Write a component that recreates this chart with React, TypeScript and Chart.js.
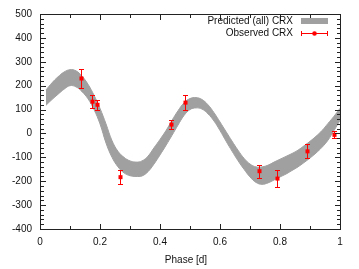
import React, { useEffect, useRef } from "react";
import { Chart, registerables } from "chart.js";
Chart.register(...registerables);

// Predicted band (phase grid, upper and lower edge of CRX envelope)
const bandPhase = [
  0.02, 0.04, 0.06, 0.08, 0.1, 0.12, 0.14, 0.16, 0.18, 0.2,
  0.22, 0.24, 0.26, 0.28, 0.3, 0.32, 0.34, 0.36, 0.38, 0.4,
  0.42, 0.44, 0.46, 0.48, 0.5, 0.52, 0.54, 0.56, 0.58, 0.6,
  0.62, 0.64, 0.66, 0.68, 0.7, 0.72, 0.74, 0.76, 0.78, 0.8,
  0.82, 0.84, 0.86, 0.88, 0.9, 0.92, 0.94, 0.96, 0.98, 1.0,
];
const bandUpper = [
  182, 212, 237, 257, 267, 262, 240, 206, 160, 105,
  40, -30, -75, -100, -115, -120, -115, -95, -60, -25,
  12, 55, 95, 128, 146, 150, 142, 120, 87, 48,
  8, -32, -70, -104, -128, -140, -140, -133, -120, -108,
  -96, -84, -70, -52, -33, -12, 12, 42, 72, 105,
];
const bandLower = [
  118, 142, 164, 185, 200, 195, 175, 145, 100, 40,
  -40, -100, -140, -165, -177, -180, -178, -160, -128, -90,
  -50, -8, 35, 75, 100, 107, 102, 82, 52, 12,
  -32, -74, -114, -150, -182, -205, -213, -207, -195, -182,
  -170, -155, -140, -122, -103, -82, -58, -28, 12, 55,
];

// Observed CRX
const obsPhase = [0.136, 0.174, 0.191, 0.266, 0.436, 0.484, 0.731, 0.789, 0.889, 0.981];
const obsCrx = [230, 133, 120, -183, 37, 129, -158, -189, -75, -6];
const obsErr = [40, 27, 21, 28, 20, 31, 28, 34, 29, 15];

const xTickValues = [0, 0.2, 0.4, 0.6, 0.8, 1];
const yTickValues = [-400, -300, -200, -100, 0, 100, 200, 300, 400, 500];
const legendLabels = ["Predicted (all) CRX", "Observed CRX"];
const xTitle = "Phase [d]";

const FONT = "'Liberation Sans', Arial, Helvetica, sans-serif";
const GREY = "#a0a0a0";
const RED = "#ff0000";

const decorPlugin = {
  id: "decor",
  afterDatasetsDraw(chart: any) {
    const { ctx, chartArea: a, scales } = chart;
    const x = scales.x;
    const y = scales.y;
    ctx.save();
    ctx.globalAlpha = 1;
    ctx.globalCompositeOperation = "source-over";
    // error bars with caps and square markers
    ctx.fillStyle = RED;
    obsPhase.forEach((p, i) => {
      const px = Math.round(x.getPixelForValue(p));
      const y1 = Math.round(y.getPixelForValue(obsCrx[i] + obsErr[i]));
      const y2 = Math.round(y.getPixelForValue(obsCrx[i] - obsErr[i]));
      ctx.fillRect(px, y1, 1, y2 - y1 + 1);
      ctx.fillRect(px - 2, y1, 5, 1);
      ctx.fillRect(px - 2, y2, 5, 1);
      const py = y.getPixelForValue(obsCrx[i]);
      ctx.fillRect(px - 1.5, py - 2, 4, 4);
    });

    // border
    ctx.fillStyle = "#222";
    const L = Math.round(a.left);
    const R = Math.round(a.right);
    const T = Math.round(a.top);
    const B = Math.round(a.bottom);
    ctx.fillRect(L, T, R - L + 1, 1);
    ctx.fillRect(L, B, R - L + 1, 1);
    ctx.fillRect(L, T, 1, B - T + 1);
    ctx.fillRect(R, T, 1, B - T + 1);

    // ticks (mirrored, inward)
    for (let k = 0; k <= 10; k++) {
      const v = k / 10;
      const len = k % 2 === 0 ? 5 : 3;
      const px = Math.round(x.getPixelForValue(v));
      ctx.fillRect(px, B - len, 1, len);
      ctx.fillRect(px, T + 1, 1, len);
    }
    for (let v = -400; v <= 500; v += 20) {
      const len = v % 100 === 0 ? 5 : 3;
      const py = Math.round(y.getPixelForValue(v));
      ctx.fillRect(L + 1, py, len, 1);
      ctx.fillRect(R - len, py, len, 1);
    }

    // axis title
    ctx.fillStyle = "#111";
    ctx.font = `10px ${FONT}`;
    ctx.textAlign = "center";
    ctx.textBaseline = "middle";
    ctx.fillText(xTitle, (a.left + a.right) / 2 - 4, 260);

    // legend
    ctx.textAlign = "right";
    ctx.fillText(legendLabels[0], 293, 21);
    ctx.fillText(legendLabels[1], 293, 33.5);
    ctx.fillStyle = GREY;
    ctx.fillRect(301, 18, 27, 6);
    ctx.fillStyle = RED;
    ctx.fillRect(301, 33, 27, 1);
    ctx.fillRect(301, 31, 1, 5);
    ctx.fillRect(327, 31, 1, 5);
    ctx.beginPath();
    ctx.arc(314.5, 33.5, 2.3, 0, Math.PI * 2);
    ctx.fill();
    ctx.restore();
  },
};

export default function App() {
  const ref = useRef<HTMLCanvasElement>(null);
  useEffect(() => {
    if (!ref.current) return;
    const chart = new Chart(ref.current, {
      type: "scatter",
      data: {
        datasets: [
          {
            label: legendLabels[0],
            data: bandPhase.map((p, i) => ({ x: p, y: bandUpper[i] })),
            showLine: true,
            borderColor: GREY,
            backgroundColor: GREY,
            borderWidth: 1,
            pointRadius: 0,
            tension: 0.4,
            fill: "+1",
          },
          {
            label: "lower",
            data: bandPhase.map((p, i) => ({ x: p, y: bandLower[i] })),
            showLine: true,
            borderColor: GREY,
            backgroundColor: GREY,
            borderWidth: 1,
            pointRadius: 0,
            tension: 0.4,
            fill: false,
          },
          {
            label: legendLabels[1],
            data: obsPhase.map((p, i) => ({ x: p, y: obsCrx[i] })),
            showLine: false,
            borderColor: RED,
            backgroundColor: RED,
            pointStyle: "rect",
            pointRadius: 0,
            pointBorderWidth: 0,
          },
        ],
      },
      options: {
        responsive: false,
        animation: false,
        layout: { padding: { left: 0, right: 19, top: 12, bottom: 0 } },
        plugins: { legend: { display: false }, tooltip: { enabled: false } },
        scales: {
          x: {
            type: "linear",
            min: 0,
            max: 1,
            afterBuildTicks: (s: any) => {
              s.ticks = xTickValues.map((v) => ({ value: v }));
            },
            afterFit: (s: any) => {
              s.height = 40;
            },
            grid: { display: false, drawTicks: false },
            border: { display: false },
            ticks: {
              padding: 7,
              color: "#111",
              font: { family: FONT, size: 10 },
              maxRotation: 0,
              callback: (v: any) => String(Number(Number(v).toFixed(1))),
            },
          },
          y: {
            type: "linear",
            min: -400,
            max: 500,
            afterBuildTicks: (s: any) => {
              s.ticks = yTickValues.map((v) => ({ value: v }));
            },
            afterFit: (s: any) => {
              s.width = 40;
            },
            grid: { display: false, drawTicks: false },
            border: { display: false },
            ticks: {
              padding: 8,
              color: "#111",
              font: { family: FONT, size: 10 },
              callback: (v: any) => String(v),
            },
          },
        },
      },
      plugins: [decorPlugin],
    });
    return () => chart.destroy();
  }, []);
  return (
    <div style={{ position: "fixed", left: 0, top: 0, width: 359, height: 269, background: "#fff" }}>
      <canvas ref={ref} width={359} height={269} style={{ width: 359, height: 269, display: "block" }} />
    </div>
  );
}
